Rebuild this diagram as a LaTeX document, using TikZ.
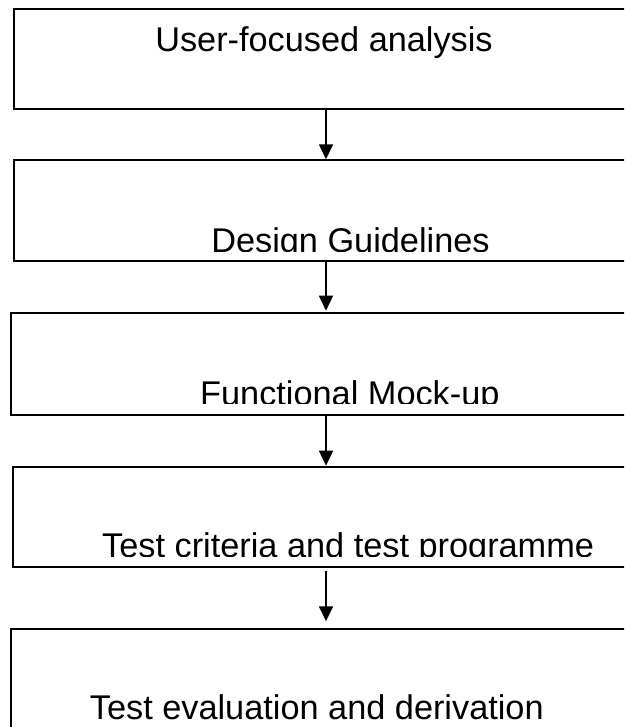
\documentclass[tikz,border=0pt]{standalone}
\usepackage{fontspec}
\setmainfont{Liberation Sans}
\usetikzlibrary{arrows.meta}
\tikzset{
  stagebox/.style={draw=black, line width=1.8pt, rectangle, inner sep=0pt, outer sep=0pt},
  stagetext/.style={anchor=base west, inner sep=0pt, outer sep=0pt,
    font=\fontsize{34.3}{40}\selectfont},
  flowarrow/.style={line width=1.6pt, -{Triangle[width=14pt,length=15pt]}}
}
\begin{document}
\begin{tikzpicture}[x=1pt,y=-1pt]
  % page frame
  \clip (0,0) rectangle (624,727);
  \fill[white] (0,0) rectangle (624,727);

  % stage boxes (running off the right edge)
  \node[stagebox, minimum width=624pt,   minimum height=100pt]   (b1) at (326,59.3)   {};
  \node[stagebox, minimum width=624.2pt, minimum height=100.7pt] (b2) at (326,210.35) {};
  \node[stagebox, minimum width=630.6pt, minimum height=101.7pt] (b3) at (326,364.15) {};
  \node[stagebox, minimum width=626.6pt, minimum height=100pt]   (b4) at (326,516.7)  {};
  \node[stagebox, minimum width=630.6pt, minimum height=100pt]   (b5) at (326,679.3)  {};

  % stage labels
  \node[stagetext] (t1) at (155.3,51.6) {User-focused analysis};
  \begin{scope}
    \clip (0,150) rectangle (624,251.7);
    \node[stagetext] (t2) at (211.3,252.9) {Design Guidelines};
  \end{scope}
  \begin{scope}
    \clip (0,300) rectangle (624,403);
    \node[stagetext] (t3) at (200.2,405.6) {Functional Mock-up};
  \end{scope}
  \begin{scope}
    \clip (0,450) rectangle (624,556.7);
    \node[stagetext] (t4) at (102.2,557.9) {Test criteria and test programme};
  \end{scope}
  \node[stagetext] (t5) at (89.9,719.8) {Test evaluation and derivation};

  % flow arrows
  \draw[flowarrow, shorten >=0.7pt] (b1.south) -- (b2.north);
  \draw[flowarrow, shorten >=2.6pt] (b2.south) -- (b3.north);
  \draw[flowarrow, shorten >=1pt]   (b3.south) -- (b4.north);
  \draw[flowarrow, shorten <=4pt, shorten >=8pt] (b4.south) -- (b5.north);
\end{tikzpicture}
\end{document}
